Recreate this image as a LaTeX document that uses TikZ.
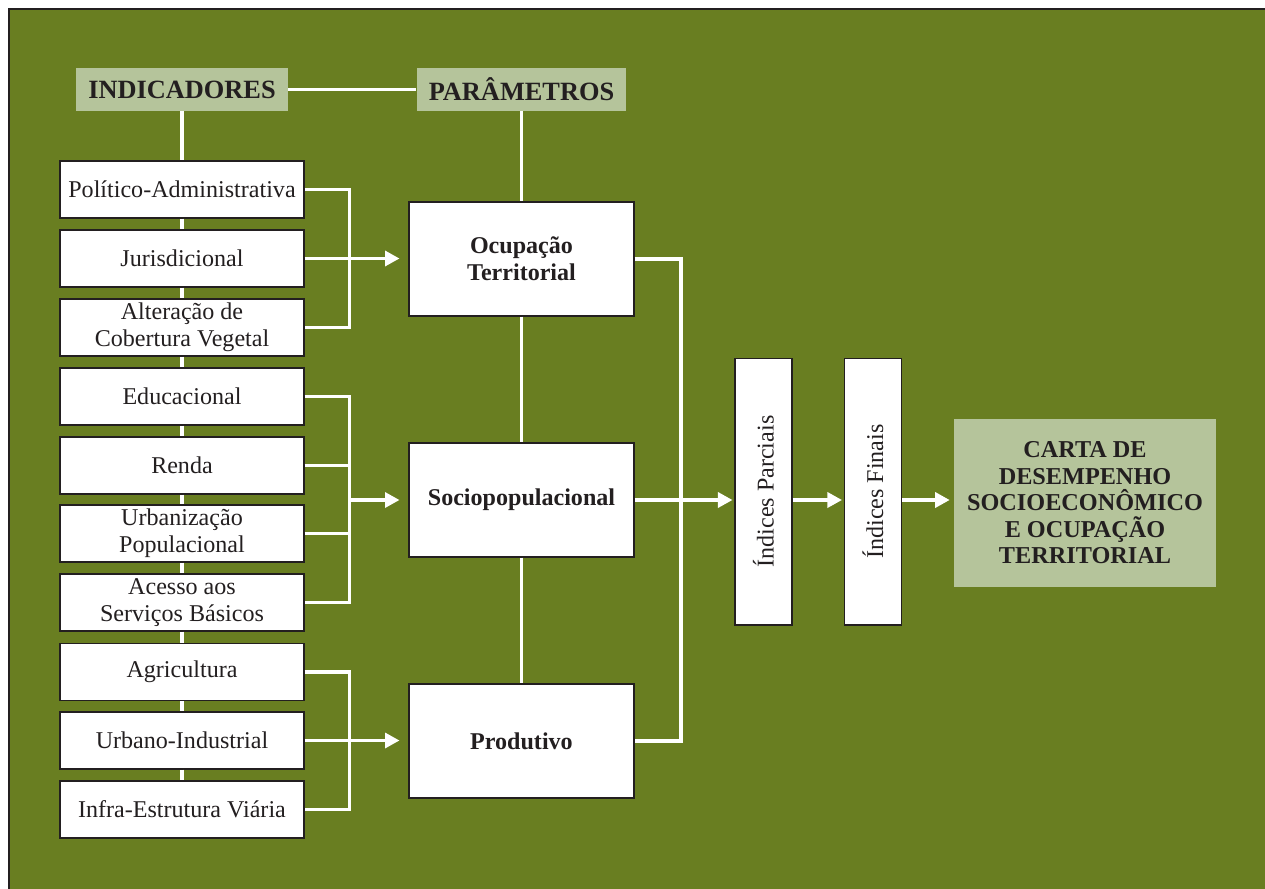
\documentclass[tikz,border=0pt]{standalone}
\usepackage{fontspec}
\setmainfont{Liberation Serif}
\usetikzlibrary{arrows.meta}
\definecolor{bgolive}{RGB}{105,126,33}
\definecolor{hdsage}{RGB}{181,196,155}
\definecolor{txtdark}{RGB}{35,31,32}

\begin{document}
\begin{tikzpicture}[x=0.02cm, y=-0.02cm,
  wline/.style={white, line width=1.9pt},
  warrow/.style={wline, -{Triangle[length=0.29cm,width=0.3cm]}},
  indbox/.style={draw=txtdark, line width=0.6pt, fill=white, text=txtdark,
    minimum width=4.88cm, minimum height=1.14cm, inner sep=0pt, align=center,
    font=\fontsize{13.7}{15.4}\selectfont},
  parbox/.style={indbox, minimum width=4.5cm, minimum height=2.28cm,
    font=\fontsize{13.7}{15.4}\selectfont\bfseries},
  hdrbox/.style={fill=hdsage, text=txtdark, minimum height=0.86cm, inner sep=0pt,
    font=\fontsize{15}{17}\selectfont\bfseries},
  idxbox/.style={indbox, minimum width=1.14cm, minimum height=5.34cm}]

  \useasboundingbox (0,0) rectangle (1265,889);
  \fill[bgolive] (9,9) rectangle (1265,889);
  \draw[txtdark, line width=1.2pt] (9,889) -- (9,9) -- (1265,9);

  % headers
  \node[hdrbox, minimum width=4.24cm] (ind) at (182,89.5) {INDICADORES};
  \node[hdrbox, minimum width=4.2cm] (par) at (521.5,89.5) {PARÂMETROS};

  % indicators
  \node[indbox] (pol) at (182,189.5) {Político-Administrativa};
  \node[indbox] (jur) at (182,258.5) {Jurisdicional};
  \node[indbox] (veg) at (182,327.5) {Alteração de\\Cobertura Vegetal};
  \node[indbox] (edu) at (182,396.5) {Educacional};
  \node[indbox] (ren) at (182,465.5) {Renda};
  \node[indbox] (urb) at (182,533.5) {Urbanização\\Populacional};
  \node[indbox] (ace) at (182,602.5) {Acesso aos\\Serviços Básicos};
  \node[indbox] (agr) at (182,672) {Agricultura};
  \node[indbox] (uin) at (182,740.5) {Urbano-Industrial};
  \node[indbox] (via) at (182,809.5) {Infra-Estrutura Viária};

  % parameters
  \node[parbox] (ocu) at (521.5,259) {Ocupação\\Territorial};
  \node[parbox] (soc) at (521.5,500) {Sociopopulacional};
  \node[parbox] (pro) at (521.5,741) {Produtivo};

  % indices and result
  \node[idxbox] (ipa) at (763.5,491.5) {\rotatebox{90}{Índices Parciais}};
  \node[idxbox] (ifi) at (873,491.5) {\rotatebox{90}{Índices Finais}};
  \node[hdrbox, minimum width=5.24cm, minimum height=3.36cm, align=center,
    font=\fontsize{13.8}{15.1}\selectfont\bfseries] (car) at (1085,503)
    {CARTA DE\\DESEMPENHO\\SOCIOECONÔMICO\\E OCUPAÇÃO\\TERRITORIAL};

  \coordinate (b2) at (349,500);
  \coordinate (mrg) at (681,500);

  % spines
  \draw[wline] (ind) -- (par);
  \draw[wline] (ind) -- (pol) -- (jur) -- (veg) -- (edu) -- (ren)
    -- (urb) -- (ace) -- (agr) -- (uin) -- (via);
  \draw[wline] (par) -- (ocu) -- (soc) -- (pro);

  % brackets
  \draw[wline] (pol.east) -- ++(45,0) |- (veg.east);
  \draw[warrow, shorten >=0.18cm] (jur.east) -- (jur.east -| ocu.west);
  \draw[wline] (edu.east) -- ++(45,0) |- (ace.east);
  \draw[wline] (ren.east) -- ++(45,0);
  \draw[wline] (urb.east) -- ++(45,0);
  \draw[warrow, shorten >=0.18cm] (b2) -- (soc.west);
  \draw[wline] (agr.east) -- ++(45,0) |- (via.east);
  \draw[warrow, shorten >=0.18cm] (uin.east) -- (uin.east -| pro.west);

  % merge to indices
  \draw[wline] (ocu.east) -| (mrg) |- (pro.east);
  \draw[warrow, shorten >=0.04cm] (soc.east) -- (soc.east -| ipa.west);
  \draw[warrow, shorten >=0.04cm] (ipa.east |- soc.east) -- (ifi.west |- soc.east);
  \draw[warrow, shorten >=0.08cm] (ifi.east |- soc.east) -- (car.west |- soc.east);
\end{tikzpicture}
\end{document}
